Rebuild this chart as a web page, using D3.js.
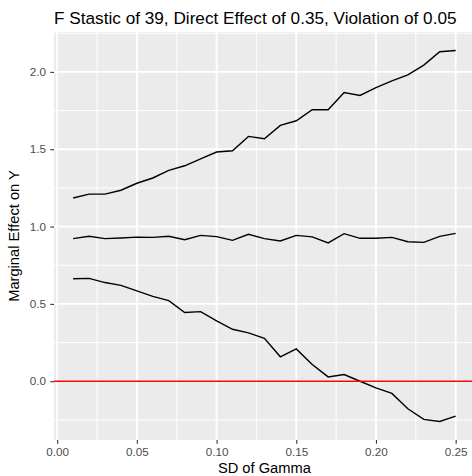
<!DOCTYPE html>
<html lang="en">
<head>
<meta charset="UTF-8">
<title>F Stastic of 39</title>
<script src="https://cdnjs.cloudflare.com/ajax/libs/d3/7.8.5/d3.min.js"></script>
<style>
    body { margin: 0; background: #fff; }
    svg { display: block; font-family: 'Liberation Sans', Arial, Helvetica, sans-serif; }
</style>
</head>
<body>
<div id="chart"></div>
<script>
// values
const sdGamma = [0.01, 0.02, 0.03, 0.04, 0.05, 0.06, 0.07, 0.08, 0.09, 0.10,
                 0.11, 0.12, 0.13, 0.14, 0.15, 0.16, 0.17, 0.18, 0.19, 0.20,
                 0.21, 0.22, 0.23, 0.24, 0.25];
const upperBound = [1.185, 1.21, 1.21, 1.235, 1.28, 1.314, 1.363, 1.393, 1.437, 1.482,
                    1.49, 1.583, 1.568, 1.654, 1.684, 1.755, 1.755, 1.867, 1.848, 1.899,
                    1.942, 1.981, 2.044, 2.13, 2.138];
const estimate = [0.922, 0.937, 0.922, 0.926, 0.932, 0.930, 0.937, 0.915, 0.943, 0.935,
                  0.911, 0.950, 0.922, 0.907, 0.943, 0.933, 0.894, 0.954, 0.924, 0.924,
                  0.930, 0.902, 0.898, 0.937, 0.956];
const lowerBound = [0.663, 0.665, 0.638, 0.620, 0.584, 0.549, 0.521, 0.444, 0.450, 0.390,
                    0.336, 0.313, 0.278, 0.158, 0.209, 0.108, 0.028, 0.043, 0.0, -0.043,
                    -0.079, -0.178, -0.247, -0.260, -0.226];
const xTicks = [0.00, 0.05, 0.10, 0.15, 0.20, 0.25];
const yTicks = [0.0, 0.5, 1.0, 1.5, 2.0];
const refLine = 0;

const width = 472, height = 476;
const margin = { top: 32, right: -2.8, bottom: 36, left: 54 };

const svg = d3.select("#chart").append("svg")
    .attr("width", width)
    .attr("height", height);

// ggplot style 5% expansion
const expand = (lo, hi) => { const p = (hi - lo) * 0.05; return [lo - p, hi + p]; };
const allY = upperBound.concat(estimate, lowerBound);

const x = d3.scaleLinear()
    .domain(expand(d3.min(sdGamma), d3.max(sdGamma)))
    .range([margin.left, width - margin.right]);
const y = d3.scaleLinear()
    .domain(expand(d3.min(allY), d3.max(allY)))
    .range([height - margin.bottom, margin.top]);

const [x0, x1] = x.range();
const [y1, y0] = y.range();

// panel
svg.append("rect")
    .attr("x", x0).attr("y", y0)
    .attr("width", x1 - x0).attr("height", y1 - y0)
    .attr("fill", "#EBEBEB");

// minor grid
const xMinor = xTicks.slice(0, -1).map((d, i) => (d + xTicks[i + 1]) / 2);
const yMinor = [-0.25, 0.25, 0.75, 1.25, 1.75, 2.25].filter(d => d >= y.domain()[0] && d <= y.domain()[1]);

svg.append("g").selectAll("line").data(xMinor).join("line")
    .attr("x1", d => x(d)).attr("x2", d => x(d))
    .attr("y1", y0).attr("y2", y1)
    .attr("stroke", "#fff").attr("stroke-width", 0.9);
svg.append("g").selectAll("line").data(yMinor).join("line")
    .attr("y1", d => y(d)).attr("y2", d => y(d))
    .attr("x1", x0).attr("x2", x1)
    .attr("stroke", "#fff").attr("stroke-width", 0.9);

// major grid
svg.append("g").selectAll("line").data(xTicks).join("line")
    .attr("x1", d => x(d)).attr("x2", d => x(d))
    .attr("y1", y0).attr("y2", y1)
    .attr("stroke", "#fff").attr("stroke-width", 1.8);
svg.append("g").selectAll("line").data(yTicks).join("line")
    .attr("y1", d => y(d)).attr("y2", d => y(d))
    .attr("x1", x0).attr("x2", x1)
    .attr("stroke", "#fff").attr("stroke-width", 1.8);

// lines
const line = d3.line()
    .x((d, i) => x(sdGamma[i]))
    .y(d => y(d));

[upperBound, estimate, lowerBound].forEach(series => {
    svg.append("path")
        .datum(series)
        .attr("d", line)
        .attr("fill", "none")
        .attr("stroke", "#000")
        .attr("stroke-width", 1.4);
});

svg.append("line")
    .attr("x1", x0).attr("x2", x1)
    .attr("y1", y(refLine)).attr("y2", y(refLine))
    .attr("stroke", "#FF0000")
    .attr("stroke-width", 1.4);

// axes
const xAxis = svg.append("g")
    .attr("transform", `translate(0,${y1})`)
    .call(d3.axisBottom(x).tickValues(xTicks).tickFormat(d3.format(".2f")).tickSize(3.7).tickPadding(4.3));
const yAxis = svg.append("g")
    .attr("transform", `translate(${x0},0)`)
    .call(d3.axisLeft(y).tickValues(yTicks).tickFormat(d3.format(".1f")).tickSize(3.7).tickPadding(4.3));

[xAxis, yAxis].forEach(g => {
    g.select(".domain").remove();
    g.selectAll(".tick line").attr("stroke", "#333").attr("stroke-width", 1.1);
    g.selectAll(".tick text")
        .attr("fill", "#4D4D4D")
        .style("font-size", "11.7px")
        .style("font-family", "'Liberation Sans', Arial, sans-serif");
});

// titles
svg.append("text")
    .attr("x", x0)
    .attr("y", 24)
    .attr("fill", "#000")
    .style("font-size", "17.2px")
    .text("F Stastic of 39, Direct Effect of 0.35, Violation of 0.05");

svg.append("text")
    .attr("x", (x0 + x1) / 2)
    .attr("y", 472.5)
    .attr("text-anchor", "middle")
    .attr("fill", "#000")
    .style("font-size", "14.7px")
    .text("SD of Gamma");

svg.append("text")
    .attr("transform", `translate(19,${(y0 + y1) / 2}) rotate(-90)`)
    .attr("text-anchor", "middle")
    .attr("fill", "#000")
    .style("font-size", "14.7px")
    .text("Marginal Effect on Y");
</script>
</body>
</html>
